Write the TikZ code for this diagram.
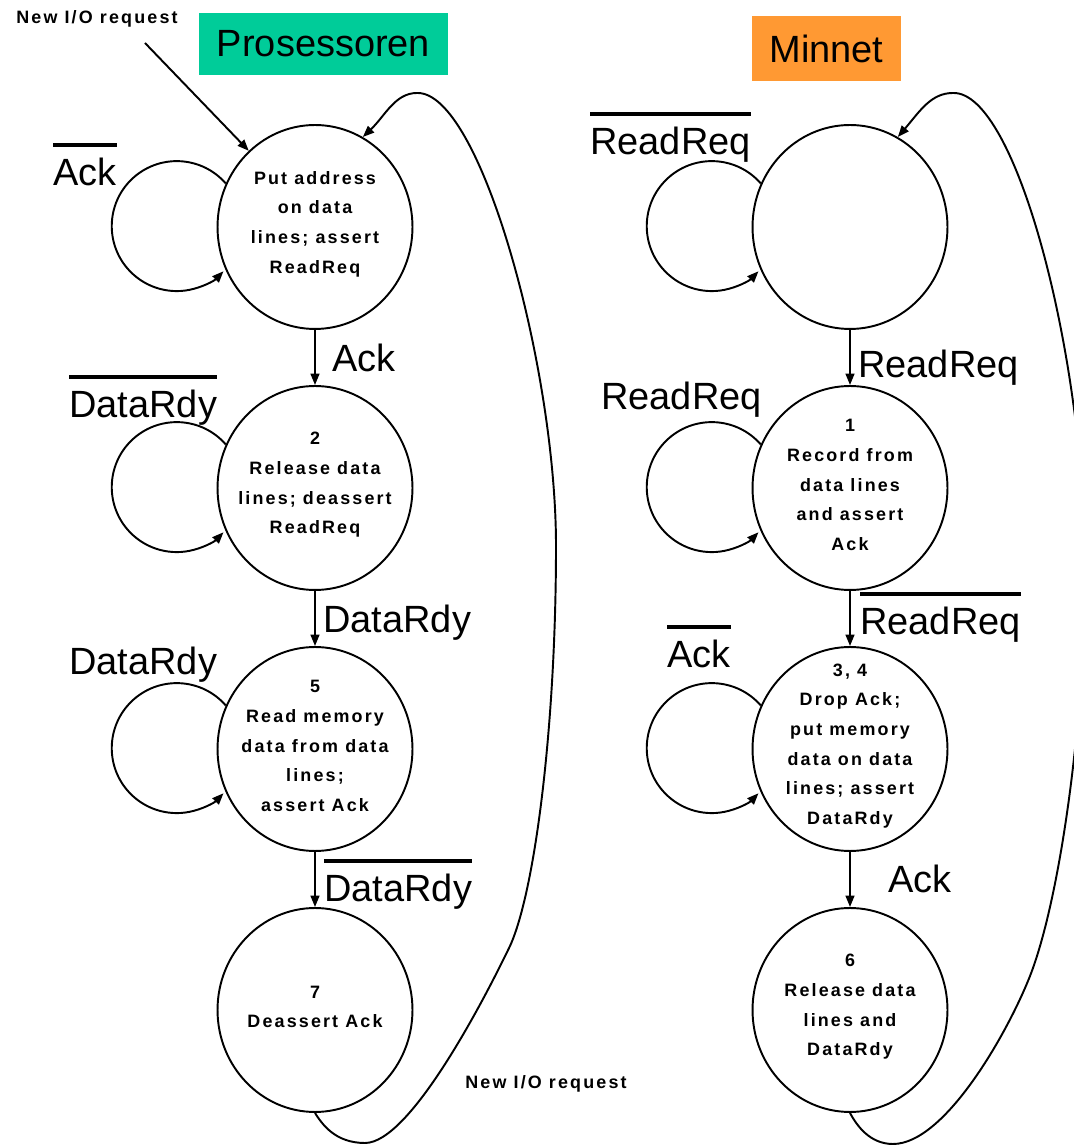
\documentclass[tikz,border=0pt]{standalone}
\usepackage{fontspec}
\setmainfont{Liberation Sans}
\newfontfamily\statefont[LetterSpace=12]{Liberation Sans}
\usetikzlibrary{arrows.meta,shapes.geometric}
\definecolor{procgreen}{RGB}{0,204,153}
\definecolor{memorange}{RGB}{255,153,51}
% signal name with a thick bar above it (negated signal)
\newcommand\barred[1]{\vbox{\hrule height 2pt\kern 6.6pt\hbox{#1}}}
\begin{document}
\begin{tikzpicture}[x=0.02cm,y=0.02cm,
  statenode/.style={ellipse, draw, line width=1.1pt, minimum width=3.9cm,
    minimum height=4.08cm, inner sep=0pt},
  statetext/.style={font=\statefont\bfseries\fontsize{10.2pt}{16.9pt}\selectfont,
    align=center, inner sep=0pt},
  sig/.style={font=\fontsize{21.6pt}{26pt}\selectfont, anchor=base west, inner sep=0pt},
  note/.style={font=\statefont\bfseries\fontsize{10.2pt}{12pt}\selectfont,
    anchor=base west, inner sep=0pt},
  titlebox/.style={font=\fontsize{21.6pt}{26pt}\selectfont, inner sep=0pt},
  edge/.style={line width=1.1pt, -{Triangle[length=6.5pt,width=5pt]}},
  loopedge/.style={line width=1.1pt, -{Triangle[length=6.5pt,width=5pt]}}
]
\useasboundingbox (0,0) rectangle (1074,1146);
\clip (0,0) rectangle (1074,1146);

% ---------- titles ----------
\node[titlebox, fill=procgreen, minimum width=4.98cm, minimum height=1.24cm]
  (tproc) at (323.5,1102) {Prosessoren};
\node[titlebox, fill=memorange, minimum width=2.98cm, minimum height=1.3cm]
  (tmem) at (826.5,1097.5) {Minnet};

% ---------- processor states ----------
\node[statenode] (s1) at (315,919) {};
\node[statenode] (s2) at (315,658) {};
\node[statenode] (s3) at (315,397) {};
\node[statenode] (s4) at (315,136) {};
\node[statetext] (s1t) at (315,922) {Put address\\on data\\lines; assert\\ReadReq};
\node[statetext] (s2t) at (315,661) {2\\Release data\\lines; deassert\\ReadReq};
\node[statetext] (s3t) at (315,400) {5\\Read memory\\data from data\\lines;\\assert Ack};
\node[statetext] (s4t) at (315,139) {7\\Deassert Ack};

% ---------- memory states ----------
\node[statenode] (m1) at (850,919) {};
\node[statenode] (m2) at (850,658) {};
\node[statenode] (m3) at (850,397) {};
\node[statenode] (m4) at (850,136) {};
\node[statetext] (m2t) at (850,661) {1\\Record from\\data lines\\and assert\\Ack};
\node[statetext] (m3t) at (850,400) {3, 4\\Drop Ack;\\put memory\\data on data\\lines; assert\\DataRdy};
\node[statetext] (m4t) at (850,139) {6\\Release data\\lines and\\DataRdy};

% ---------- transitions down each column ----------
\draw[edge] (s1.south) -- (s2.north);
\draw[edge] (s2.south) -- (s3.north);
\draw[edge] (s3.south) -- (s4.north);
\draw[edge] (m1.south) -- (m2.north);
\draw[edge] (m2.south) -- (m3.north);
\draw[edge] (m3.south) -- (m4.north);

% ---------- self loops ----------
\foreach \s in {s1,s2,s3,m1,m2,m3}
  \draw[loopedge] (\s.154) arc[start angle=41, end angle=316, radius=1.3cm];

% ---------- new request into the first processor state ----------
\coordinate (nio) at (145,1103);
\node[note] (niotop) at (16,1122) {New I/O request};
\draw[edge] (nio) -- (s1.131);

% ---------- return paths ----------
\draw[loopedge] (s4.south) .. controls (322,22) and (335,3) .. (365,3)
  .. controls (410,3) and (484,146) .. (510,200)
  .. controls (535,255) and (556,420) .. (556,600)
  .. controls (556,780) and (480,1055) .. (417,1053)
  .. controls (395,1053) and (385,1030) .. (s1.62);
\draw[loopedge] (m4.south) .. controls (857,20) and (870,2) .. (893,2)
  .. controls (945,2) and (1008,114) .. (1030,170)
  .. controls (1059,244) and (1085,420) .. (1085,580)
  .. controls (1085,790) and (1016,1055) .. (953,1053)
  .. controls (931,1053) and (920,1035) .. (m1.62);
\node[note] (niobot) at (465,57) {New I/O request};

% ---------- signal labels, processor side ----------
\node[sig] (l1) at (53,960) {\barred{Ack}};
\node[sig] (a1) at (332,774) {Ack};
\node[sig] (l2) at (69,728) {\barred{DataRdy}};
\node[sig] (a2) at (323,513) {DataRdy};
\node[sig] (l3) at (69,471) {DataRdy};
\node[sig] (a3) at (324,244) {\barred{DataRdy}};

% ---------- signal labels, memory side ----------
\node[sig] (k1) at (590,991) {\barred{ReadReq}};
\node[sig] (b1) at (858,768) {ReadReq};
\node[sig] (k2) at (601,736) {ReadReq};
\node[sig] (b2) at (860,511) {\barred{ReadReq}};
\node[sig] (k3) at (667,478) {\barred{Ack}};
\node[sig] (b3) at (888,253) {Ack};
\end{tikzpicture}
\end{document}
